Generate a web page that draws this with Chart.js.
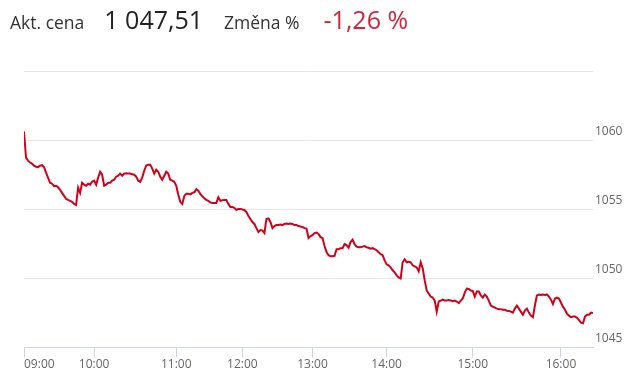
<!DOCTYPE html>
<html>
<head>
<meta charset="utf-8">
<script src="https://cdn.jsdelivr.net/npm/chart.js@4"></script>
<style>
  body { margin: 0; background: #fff; font-family: "Open Sans", sans-serif; }
  #wrap { position: relative; width: 640px; height: 379px; }
  #head { position: absolute; left: 10px; top: 2px; white-space: nowrap; color: #333; }
  #head span { display: inline-block; vertical-align: baseline; }
  .lbl { font-size: 17.5px; }
  .big { font-size: 25px; color: #222; margin: 0 21px 0 20px; }
  .red { font-size: 25px; color: #d0263d; margin-left: 24px; }
  #box { position: absolute; left: 0; top: 0; width: 640px; height: 379px; }
</style>
</head>
<body>
<div id="wrap">
  <div id="box"><canvas id="lineChart"></canvas></div>
  <div id="head">
    <span class="lbl">Akt. cena</span><span class="big">1 047,51</span><span class="lbl">Změna %</span><span class="red">-1,26 %</span>
  </div>
</div>
<script>
const LINE_COLOR = '#d0021b';

// index of the point where each hour starts
const hourIndex = [0, 35, 76, 109, 144, 181, 224, 268];
const hourLabels = ['09:00', '10:00', '11:00', '12:00', '13:00', '14:00', '15:00', '16:00'];

const yTicks = [1045, 1050, 1055, 1060, 1065];

const prices = [
  1060.63, 1058.74, 1058.52, 1058.38, 1058.30, 1058.16, 1058.08, 1058.05, 1058.16, 1058.19,
  1058.05, 1057.65, 1057.29, 1056.92, 1056.85, 1056.67, 1056.70, 1056.59, 1056.41, 1056.19,
  1055.97, 1055.76, 1055.68, 1055.61, 1055.54, 1055.39, 1055.32, 1056.56, 1056.19, 1056.92,
  1056.78, 1056.70, 1056.85, 1056.78, 1056.99, 1057.07, 1056.78, 1057.29, 1057.72, 1057.50,
  1056.70, 1056.78, 1056.92, 1056.92, 1057.07, 1057.14, 1057.36, 1057.43, 1057.58, 1057.43,
  1057.58, 1057.61, 1057.58, 1057.58, 1057.54, 1057.50, 1057.36, 1057.07, 1056.99, 1057.29,
  1057.79, 1058.16, 1058.23, 1058.23, 1057.94, 1057.58, 1057.87, 1057.72, 1057.36, 1057.14,
  1057.43, 1057.72, 1057.58, 1057.14, 1057.07, 1056.99, 1056.70, 1056.05, 1055.54, 1055.39,
  1055.97, 1056.12, 1056.12, 1056.08, 1056.19, 1056.23, 1056.45, 1056.34, 1056.12, 1055.94,
  1055.79, 1055.68, 1055.61, 1055.50, 1055.46, 1055.46, 1055.46, 1055.87, 1055.61, 1055.65,
  1055.68, 1055.68, 1055.39, 1055.17, 1055.17, 1055.10, 1054.95, 1055.03, 1055.03, 1054.99,
  1054.95, 1054.81, 1054.52, 1054.30, 1054.08, 1053.94, 1053.64, 1053.35, 1053.50, 1053.46,
  1053.28, 1054.30, 1054.34, 1054.08, 1053.64, 1053.79, 1053.86, 1053.86, 1053.90, 1053.86,
  1053.94, 1053.97, 1053.94, 1053.97, 1053.94, 1053.86, 1053.86, 1053.79, 1053.75, 1053.72,
  1053.64, 1053.61, 1052.92, 1053.06, 1053.13, 1053.28, 1053.32, 1053.21, 1052.99, 1052.92,
  1052.34, 1051.90, 1051.68, 1051.61, 1051.61, 1051.64, 1052.12, 1052.12, 1052.19, 1052.19,
  1052.48, 1052.41, 1052.22, 1052.63, 1052.81, 1052.48, 1052.30, 1052.26, 1052.26, 1052.30,
  1052.34, 1052.26, 1052.22, 1052.15, 1052.19, 1052.12, 1052.04, 1051.90, 1051.75, 1051.68,
  1051.31, 1051.02, 1050.95, 1050.80, 1050.59, 1050.44, 1050.22, 1050.08, 1050.00, 1051.17,
  1051.39, 1051.17, 1051.21, 1051.17, 1050.95, 1050.88, 1050.80, 1050.52, 1051.17, 1050.73,
  1049.86, 1049.13, 1048.91, 1048.69, 1048.62, 1048.40, 1047.60, 1048.33, 1048.40, 1048.47,
  1048.40, 1048.40, 1048.44, 1048.40, 1048.36, 1048.40, 1048.33, 1048.22, 1048.40, 1048.55,
  1048.98, 1049.27, 1049.24, 1049.13, 1049.09, 1048.69, 1049.06, 1049.06, 1048.77, 1048.62,
  1048.84, 1048.69, 1048.40, 1048.04, 1047.96, 1047.89, 1047.82, 1047.78, 1047.78, 1047.74,
  1047.74, 1047.67, 1047.64, 1047.60, 1047.53, 1047.82, 1048.04, 1047.82, 1047.60, 1047.38,
  1047.67, 1047.82, 1047.53, 1047.31, 1047.20, 1048.04, 1048.77, 1048.84, 1048.80, 1048.84,
  1048.80, 1048.84, 1048.69, 1048.47, 1048.15, 1048.55, 1048.62, 1048.55, 1048.26, 1047.96,
  1047.74, 1047.46, 1047.31, 1047.20, 1047.24, 1047.24, 1047.16, 1046.98, 1046.80, 1046.76,
  1047.24, 1047.38, 1047.38, 1047.53, 1047.51
];

const lastIndex = prices.length - 1;
const points = prices.map((p, i) => ({ x: i, y: p }));

const config = {
  type: 'line',
  data: {
    datasets: [{
      data: points,
      borderColor: LINE_COLOR,
      borderWidth: 2,
      pointRadius: 0,
      tension: 0,
      fill: false
    }]
  },
  options: {
    responsive: true,
    maintainAspectRatio: false,
    animation: false,
    layout: { padding: { top: 71, left: 24, right: 0, bottom: 7 } },
    plugins: {
      legend: { display: false },
      tooltip: { enabled: false }
    },
    scales: {
      x: {
        type: 'linear',
        min: 0,
        max: lastIndex,
        // an empty tick at the end so 'inner' alignment only moves the first label
        afterBuildTicks: (scale) => {
          scale.ticks = hourIndex.concat([lastIndex]).map(v => ({ value: v }));
        },
        border: { color: '#ccd6eb' },
        grid: {
          drawOnChartArea: false,
          tickLength: 10,
          color: (ctx) => (ctx.tick && ctx.tick.value === lastIndex ? 'rgba(0,0,0,0)' : '#ccd6eb')
        },
        ticks: {
          autoSkip: false,
          maxRotation: 0,
          align: 'inner',
          padding: 0,
          color: '#666',
          font: { family: 'Open Sans', size: 12 },
          callback: (v) => {
            const k = hourIndex.indexOf(v);
            return k < 0 ? '' : hourLabels[k];
          }
        }
      },
      y: {
        position: 'right',
        min: 1045,
        max: 1065,
        afterBuildTicks: (scale) => {
          scale.ticks = yTicks.map(v => ({ value: v }));
        },
        afterFit: (scale) => { scale.width = 47; },
        border: { display: false },
        grid: { color: '#e6e6e6', drawTicks: false },
        ticks: {
          padding: 2,
          labelOffset: -9,
          color: '#666',
          font: { family: 'Open Sans', size: 12 },
          callback: (v) => (v === 1065 ? '' : String(v))
        }
      }
    }
  }
};

new Chart(document.getElementById('lineChart'), config);
</script>
</body>
</html>
